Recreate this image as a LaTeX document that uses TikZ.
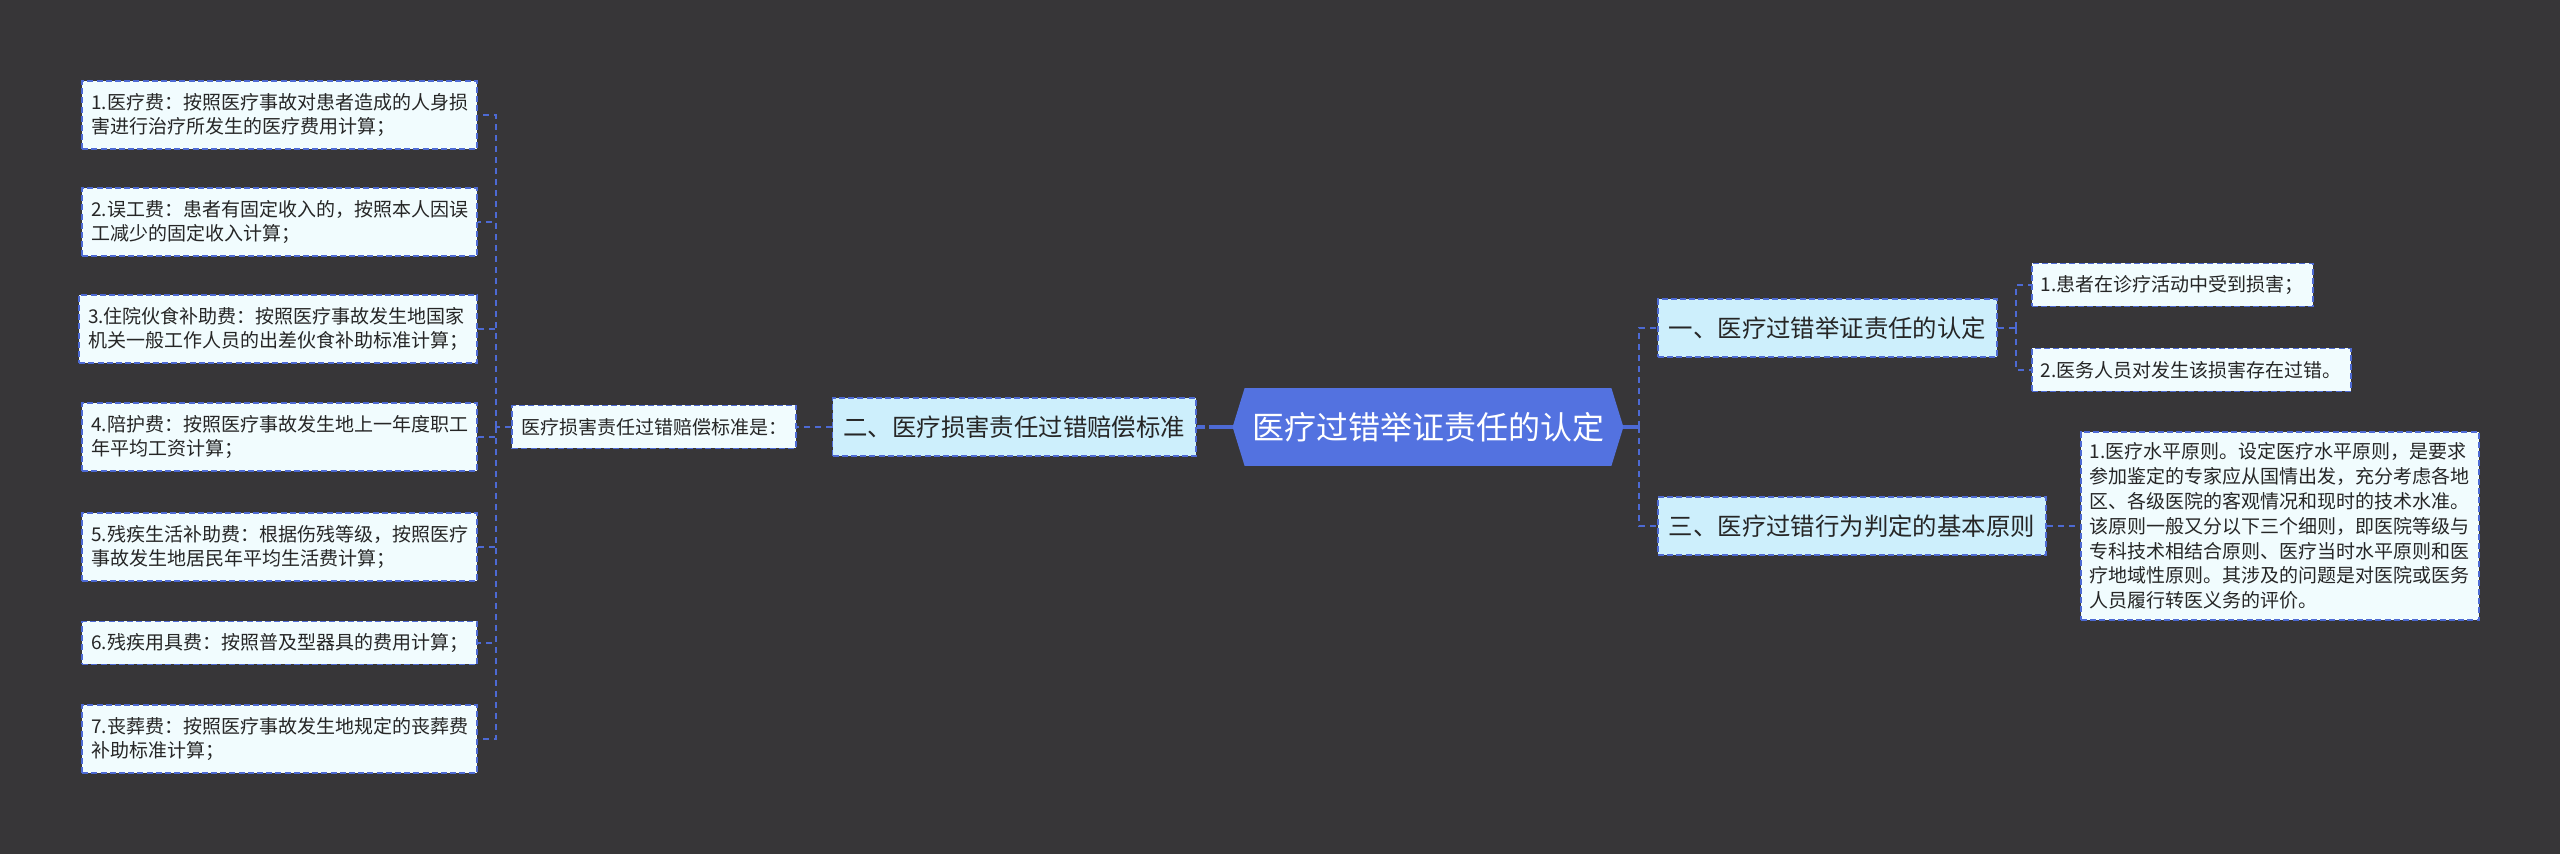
\documentclass[tikz,border=0pt]{standalone}
\usepackage{fontspec}
\newfontfamily\cjk{Noto Sans CJK SC}
\usepackage{tikz}
\usetikzlibrary{positioning,backgrounds}
\definecolor{mmback} {HTML}{373638}
\definecolor{mmline} {HTML}{4D6AD4}
\definecolor{mmhub}  {HTML}{5372E0}
\definecolor{mmtopic}{HTML}{CDEFFC}
\definecolor{mmleaf} {HTML}{F1FCFE}
\definecolor{mmink}  {HTML}{262626}

\begin{document}
\begin{tikzpicture}[
  x=0.5pt, y=-0.5pt,
  box/.style={draw=mmline, line width=0.9pt, dash pattern=on 3pt off 1.6pt,
              text=mmink, inner xsep=4.5pt, align=left},
  leaf/.style={box, fill=mmleaf, inner ysep=6pt,
               font=\cjk\fontsize{9.5}{12.4}\selectfont},
  note/.style={box, fill=mmleaf, minimum height=21.5pt, inner ysep=0pt,
               font=\cjk\fontsize{9.5}{11}\selectfont},
  topic/.style={box, fill=mmtopic, minimum height=29pt, inner xsep=5.5pt,
                inner ysep=0pt, font=\cjk\fontsize{12.2}{14}\selectfont},
  branch/.style={draw=mmline, line width=0.9pt, dash pattern=on 3pt off 2.5pt},
  stem/.style={draw=mmline, line width=1.6pt},
]
  \useasboundingbox (0,0) rectangle (2560,854);

  % Root in the middle, the hexagon itself goes on the background layer.
  \node[minimum width=195pt, minimum height=38.5pt, inner sep=0pt, text=white,
        font=\cjk\fontsize{16}{19}\selectfont] (hub) at (1428,427) {医疗过错举证责任的认定};

  % Left branch: compensation items.
  \node[topic, anchor=east] (t2) at (1197,427) {二、医疗损害责任过错赔偿标准};
  \node[note, anchor=east] (std) at (797,427) {医疗损害责任过错赔偿标准是：};

  \node[leaf, anchor=east] (cost1) at (478,115) {1.医疗费：按照医疗事故对患者造成的人身损\\害进行治疗所发生的医疗费用计算；};
  \node[leaf, anchor=east] (cost2) at (478,222) {2.误工费：患者有固定收入的，按照本人因误\\工减少的固定收入计算；};
  \node[leaf, anchor=east] (cost3) at (478,329) {3.住院伙食补助费：按照医疗事故发生地国家\\机关一般工作人员的出差伙食补助标准计算；};
  \node[leaf, anchor=east] (cost4) at (478,437) {4.陪护费：按照医疗事故发生地上一年度职工\\年平均工资计算；};
  \node[leaf, anchor=east] (cost5) at (478,547) {5.残疾生活补助费：根据伤残等级，按照医疗\\事故发生地居民年平均生活费计算；};
  \node[note, anchor=east] (cost6) at (478,643) {6.残疾用具费：按照普及型器具的费用计算；};
  \node[leaf, anchor=east] (cost7) at (478,739) {7.丧葬费：按照医疗事故发生地规定的丧葬费\\补助标准计算；};

  % Right branches.
  \node[topic, anchor=west] (t1) at (1657,328) {一、医疗过错举证责任的认定};
  \node[note, anchor=west] (fact1) at (2031,285) {1.患者在诊疗活动中受到损害；};
  \node[note, anchor=west] (fact2) at (2031,370) {2.医务人员对发生该损害存在过错。};

  \node[topic, anchor=west] (t3) at (1657,526) {三、医疗过错行为判定的基本原则};
  \node[leaf, anchor=west, inner ysep=5.5pt] (rule) at (2080,526)
    {1.医疗水平原则。设定医疗水平原则，是要求\\参加鉴定的专家应从国情出发，充分考虑各地\\区、各级医院的客观情况和现时的技术水准。\\该原则一般又分以下三个细则，即医院等级与\\专科技术相结合原则、医疗当时水平原则和医\\疗地域性原则。其涉及的问题是对医院或医务\\人员履行转医义务的评价。};

  % Connectors.
  \coordinate (lbus)  at (496,427);
  \coordinate (rbus)  at (1639,427);
  \coordinate (t1bus) at (2016,328);

  \draw[stem, dash pattern=on 12pt off 2pt] (hub.west) -- (t2.east);
  \draw[branch] (t2.west) -- (std.east);
  \draw[branch] (std.west) -- (lbus);
  \foreach \i in {1,...,7}
    { \draw[branch] (lbus) |- (cost\i.east); }

  \draw[stem] (hub.east) -- (rbus);
  \draw[branch, line width=1.2pt] (rbus) |- (t1.west);
  \draw[branch, line width=1.2pt] (rbus) |- (t3.west);
  \draw[branch] (t1.east) -- (t1bus);
  \draw[branch] (t1bus) |- (fact1.west);
  \draw[branch] (t1bus) |- (fact2.west);
  \draw[branch] (t3.east) -- (rule.west);

  \begin{scope}[on background layer]
    \fill[mmback] (0,0) rectangle (2560,854);
    \fill[mmhub] ([xshift=6pt]hub.north west) -- ([xshift=-6pt]hub.north east) -- (hub.east)
      -- ([xshift=-6pt]hub.south east) -- ([xshift=6pt]hub.south west) -- (hub.west) -- cycle;
  \end{scope}
\end{tikzpicture}
\end{document}
